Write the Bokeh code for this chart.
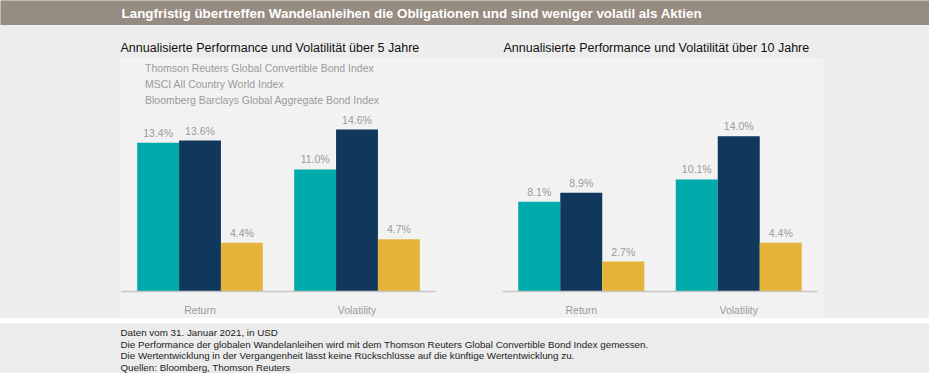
from bokeh.plotting import figure
from bokeh.models import (Range1d, FactorRange, ColumnDataSource, LabelSet, Label,
                          Legend, LegendItem, Spacer)
from bokeh.core.properties import value
from bokeh.transform import dodge
from bokeh.layouts import column, row
from bokeh.embed import file_html
from bokeh.resources import INLINE

# ---------------- data ----------------
TITLE = "Langfristig übertreffen Wandelanleihen die Obligationen und sind weniger volatil als Aktien"
CHART_TITLES = ["Annualisierte Performance und Volatilität über 5 Jahre",
                "Annualisierte Performance und Volatilität über 10 Jahre"]
CATEGORIES = ["Return", "Volatility"]
SERIES = ["Thomson Reuters Global Convertible Bond Index",
          "MSCI All Country World Index",
          "Bloomberg Barclays Global Aggregate Bond Index"]
COLORS = ["#00a9aa", "#10385c", "#e6b43a"]

TR_5Y = [13.4, 11.0]
MSCI_5Y = [13.6, 14.6]
BB_5Y = [4.4, 4.7]

TR_10Y = [8.1, 10.1]
MSCI_10Y = [8.9, 14.0]
BB_10Y = [2.7, 4.4]

FOOTNOTES = [
    "Daten vom 31. Januar 2021, in USD",
    "Die Performance der globalen Wandelanleihen wird mit dem Thomson Reuters Global Convertible Bond Index gemessen.",
    "Die Wertentwicklung in der Vergangenheit lässt keine Rückschlüsse auf die künftige Wertentwicklung zu.",
    "Quellen: Bloomberg, Thomson Reuters",
]

Y_MAX = 21.0

FONT = "Liberation Sans"
OUTER_BG = "#ededed"
PANEL_BG = "#f2f2f2"
FOOT_BG = "#ececec"
BAR_BG = "#978c82"
LABEL_GRAY = "#9a9a9a"


def panel(w, h, color):
    f = figure(width=w, height=h, output_backend="svg", toolbar_location=None,
               x_range=Range1d(0, w), y_range=Range1d(h, 0),
               x_axis_type=None, y_axis_type=None, min_border=0,
               background_fill_color=color, border_fill_color=color,
               outline_line_color=None)
    f.grid.visible = False
    return f


def txt(f, x, y, s, size, color, style="normal", align="left"):
    f.add_layout(Label(x=x, y=y, text=s, text_font=FONT, text_font_size=size,
                       text_color=color, text_font_style=style,
                       text_align=align, text_baseline="middle"))


def bar_chart(tr, msci, bb, width, left, right, legend):
    src = ColumnDataSource(dict(cat=CATEGORIES, s0=tr, s1=msci, s2=bb,
                                l0=[f"{v:.1f}%" for v in tr],
                                l1=[f"{v:.1f}%" for v in msci],
                                l2=[f"{v:.1f}%" for v in bb]))
    f = figure(x_range=FactorRange(*CATEGORIES, range_padding=0),
               y_range=Range1d(0, Y_MAX), width=width, height=260,
               output_backend="svg", toolbar_location=None,
               y_axis_location=None, min_border_left=left, min_border_right=right,
               min_border_top=0, min_border_bottom=25,
               background_fill_color=PANEL_BG, border_fill_color=PANEL_BG,
               outline_line_color=None)
    f.grid.visible = False
    bw = 0.8 / 3
    offs = [-bw, 0.0, bw]
    for i in range(3):
        f.vbar(x=dodge("cat", offs[i], range=f.x_range), top=f"s{i}", width=bw,
               source=src, fill_color=COLORS[i], line_color=None)
        f.add_layout(LabelSet(x=dodge("cat", offs[i], range=f.x_range), y=f"s{i}",
                              text=f"l{i}", source=src, y_offset=6,
                              text_align="center", text_baseline="alphabetic",
                              text_font=value(FONT), text_font_size=value("10.5px"),
                              text_color=value(LABEL_GRAY)))
    ax = f.xaxis[0]
    ax.axis_line_color = "#c6c6c6"
    ax.axis_line_width = 1.5
    ax.major_tick_line_color = None
    ax.minor_tick_line_color = None
    ax.major_label_standoff = 6
    ax.major_label_text_font = FONT
    ax.major_label_text_font_size = "10.5px"
    ax.major_label_text_color = LABEL_GRAY

    if legend:
        items = []
        for i in range(3):
            r = f.scatter(x=[], y=[], marker="square", size=7,
                          fill_color=COLORS[i], line_color=None)
            items.append(LegendItem(label=SERIES[i], renderers=[r]))
        lg = Legend(items=items, location="top_left", margin=2, padding=0,
                    spacing=0, glyph_width=19, glyph_height=16, label_height=16,
                    label_standoff=3, label_text_font=FONT,
                    label_text_font_size="10.5px", label_text_color=LABEL_GRAY,
                    background_fill_alpha=0, border_line_color=None)
        f.add_layout(lg)
    return f


# ---------------- layout ----------------
W = 929
title_bar = panel(W, 25, BAR_BG)
txt(title_bar, 121, 12.5, TITLE, "13.4px", "white", style="bold")

strip = panel(W, 33, OUTER_BG)
txt(strip, 120, 22.5, CHART_TITLES[0], "12.5px", "#111111")
txt(strip, 503, 22.5, CHART_TITLES[1], "12.5px", "#111111")

left_sp = panel(120, 260, OUTER_BG)
right_sp = panel(106, 260, OUTER_BG)
c1 = bar_chart(TR_5Y, MSCI_5Y, BB_5Y, 348, 1, 33, True)
c2 = bar_chart(TR_10Y, MSCI_10Y, BB_10Y, 355, 34, 6, False)

charts = row(left_sp, c1, c2, right_sp, spacing=0,
             styles={"background-color": PANEL_BG})

gap = Spacer(width=W, height=5, styles={"background-color": "#ffffff"})
foot = panel(W, 50, FOOT_BG)
for i, s in enumerate(FOOTNOTES):
    txt(foot, 120, 9 + 11.5 * i, s, "9.8px", "#222222")

page = column(title_bar, strip, charts, gap, foot, spacing=0,
              styles={"background-color": OUTER_BG})

open("out.html", "w").write(file_html(page, INLINE))
